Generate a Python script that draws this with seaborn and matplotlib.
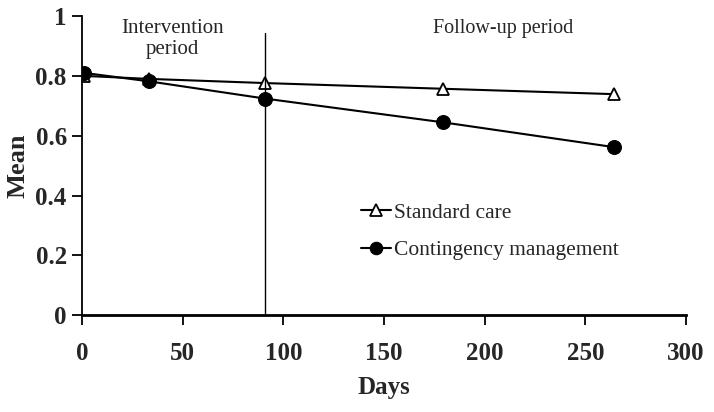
import pandas as pd
import matplotlib.pyplot as plt
import seaborn as sns

days_std = [1, 33, 91, 179, 264]
mean_std = [0.80, 0.79, 0.776, 0.757, 0.739]
days_cm = [1, 33, 91, 179, 264]
mean_cm = [0.81, 0.782, 0.724, 0.645, 0.562]
groups = ['Standard care', 'Contingency management']
x_ticks = [0, 50, 100, 150, 200, 250, 300]
y_ticks = [0, 0.2, 0.4, 0.6, 0.8, 1]
y_tick_labels = ['0', '0.2', '0.4', '0.6', '0.8', '1']
intervention_end = 91

df = pd.concat([
    pd.DataFrame({'Days': days_std, 'Mean': mean_std, 'Group': groups[0]}),
    pd.DataFrame({'Days': days_cm, 'Mean': mean_cm, 'Group': groups[1]}),
])

sns.set_style('ticks')
plt.rcParams['font.family'] = ['Liberation Serif', 'DejaVu Serif']

fig = plt.figure(figsize=(7.14, 4.12), dpi=100)
ax = fig.add_axes([0.115, 0.235, 0.846, 0.726])

sns.lineplot(data=df, x='Days', y='Mean', hue='Group', style='Group',
             palette=['black', 'black'], markers={groups[0]: '^', groups[1]: 'o'},
             dashes=False, markersize=9, linewidth=1.5, ax=ax)
for line in ax.lines:
    if line.get_marker() == '^':
        line.set_markerfacecolor('white')
        line.set_markeredgecolor('black')
        line.set_markeredgewidth(1.3)
        line.set_markersize(9)
    else:
        line.set_markerfacecolor('black')
        line.set_markeredgecolor('black')
        line.set_markersize(10)

# end of the intervention period
ax.axvline(intervention_end, ymin=0, ymax=0.943, color='black', linewidth=1)

ax.set_xlim(0, 300)
ax.set_ylim(0, 1)
ax.set_xticks(x_ticks)
ax.set_yticks(y_ticks)
ax.set_yticklabels(y_tick_labels)
ax.tick_params(axis='both', labelsize=18, direction='out', length=7, width=1.3, color='black')
ax.tick_params(axis='x', pad=12)
ax.tick_params(axis='y', pad=4)
for lbl in ax.get_xticklabels() + ax.get_yticklabels():
    lbl.set_fontweight('bold')
ax.set_xlabel('Days', fontsize=18, fontweight='bold', labelpad=8)
ax.set_ylabel('Mean', fontsize=19, fontweight='bold', labelpad=4)
sns.despine(ax=ax)
ax.spines['bottom'].set_linewidth(2)
ax.spines['left'].set_linewidth(1.3)
ax.spines['left'].set_color('black')
ax.spines['bottom'].set_color('black')

ax.text(45, 0.99, 'Intervention\nperiod', ha='center', va='top', fontsize=15, linespacing=1.15)
ax.text(209, 0.99, 'Follow-up period', ha='center', va='top', fontsize=14.5)

leg = ax.legend(loc='upper left', bbox_to_anchor=(0.43, 0.44), frameon=False,
                fontsize=15.5, handlelength=1.4, handletextpad=0.1, labelspacing=0.8)
for h in leg.legend_handles:
    h.set_markersize(9)

fig.savefig('out.png', dpi=100)
